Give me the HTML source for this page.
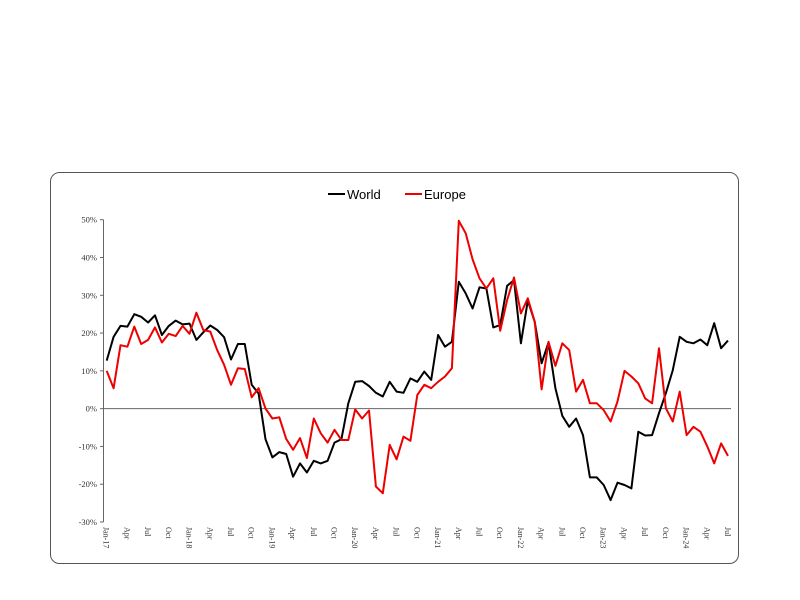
<!DOCTYPE html>
<html><head><meta charset="utf-8"><style>
body{margin:0;background:#fff;width:800px;height:600px;overflow:hidden}
svg{display:block}
</style></head><body>
<svg id="chart" width="800" height="600">
<rect x="50.5" y="172.5" width="688" height="391" rx="9" fill="#fff" stroke="#555" stroke-width="1"/>
<g id="legend">
<line x1="328" y1="194" x2="345" y2="194" stroke="#000" stroke-width="2"/>
<text x="347" y="199" font-family="Liberation Sans, sans-serif" font-size="13" fill="#000">World</text>
<line x1="405" y1="194" x2="422" y2="194" stroke="#e00" stroke-width="2"/>
<text x="424" y="199" font-family="Liberation Sans, sans-serif" font-size="13" fill="#000">Europe</text>
</g>
<g id="axes"></g>
<g id="series"></g>
</svg>
<script>
const yTicks=[50,40,30,20,10,0,-10,-20,-30];
const xTickLabels=["Jan-17","Apr","Jul","Oct","Jan-18","Apr","Jul","Oct","Jan-19","Apr","Jul","Oct","Jan-20","Apr","Jul","Oct","Jan-21","Apr","Jul","Oct","Jan-22","Apr","Jul","Oct","Jan-23","Apr","Jul","Oct","Jan-24","Apr","Jul"];
const world=[12.7,19,21.9,21.7,25,24.3,22.8,24.7,19.5,21.9,23.3,22.3,22.5,18.2,20.2,22,20.8,18.9,13,17.1,17.1,6.3,4,-8.1,-12.9,-11.5,-12,-18,-14.5,-16.9,-13.8,-14.5,-13.8,-9,-8.1,1.4,7.1,7.3,6,4.2,3.2,7.1,4.5,4.2,8,7.1,9.8,7.6,19.5,16.4,17.7,33.6,30.5,26.5,32.1,31.8,21.5,22.1,32.5,34,17.3,28.6,23,12,17.5,5.4,-1.9,-4.8,-2.6,-7,-18.2,-18.2,-20.2,-24.2,-19.6,-20.2,-21.1,-6.1,-7.1,-7,-1.2,4.1,10.2,19,17.7,17.3,18.3,16.8,22.6,16,18];
const europe=[10,5.4,16.8,16.4,21.7,17.1,18.2,21.5,17.5,19.8,19.2,21.9,19.8,25.4,20.8,20.4,15.5,11.6,6.3,10.7,10.5,3,5.4,0,-2.6,-2.3,-8,-10.9,-7.8,-13.1,-2.6,-6.5,-9,-5.6,-8.3,-8.3,-0.2,-2.6,-0.5,-20.6,-22.4,-9.6,-13.4,-7.4,-8.5,3.6,6.3,5.4,7.1,8.5,10.7,49.7,46.4,39.5,34.5,31.8,34.5,20.6,28.7,34.7,25.2,29.2,23,5.1,17.7,11.3,17.3,15.5,4.5,7.6,1.4,1.4,-0.4,-3.4,1.9,10,8.5,6.7,2.7,1.4,16,0.1,-3.4,4.5,-7,-4.8,-6.1,-10,-14.5,-9.2,-12.5];
const NS='http://www.w3.org/2000/svg';
const x0=106.7,x1=728,yTop=219.7,yBot=522,vMax=50,vMin=-30;
const N=world.length;
function xs(i){return x0+(x1-x0)*i/(N-1);}
function ys(v){return yTop+(vMax-v)*(yBot-yTop)/(vMax-vMin);}
function mk(t,a,p){const e=document.createElementNS(NS,t);for(const k in a)e.setAttribute(k,a[k]);p.appendChild(e);return e;}
const axes=document.getElementById('axes');
const yAxis=mk('line',{x1:103.5,y1:yTop,x2:103.5,y2:yBot,stroke:'#666','stroke-width':1},axes);


const zero=mk('line',{x1:103.5,y1:ys(0),x2:731,y2:ys(0),stroke:'#666','stroke-width':1},axes);


yTicks.forEach(v=>{
  const tk=mk('line',{x1:100,y1:ys(v),x2:103.5,y2:ys(v),stroke:'#666'},axes);
  
  
  const t=mk('text',{x:97,y:ys(v)+3,'text-anchor':'end','font-family':'Liberation Serif, serif','font-size':8.5,fill:'#333'},axes);
  t.textContent=v+'%';
  
  
});
xTickLabels.forEach((l,k)=>{
  const x=xs(k*3);
  const t=mk('text',{x:0,y:0,transform:`translate(${x-3},527) rotate(90)`,'font-family':'Liberation Serif, serif','font-size':8,fill:'#333'},axes);
  t.textContent=l;
  
  
});
const series=document.getElementById('series');
function line(d,c,name){
  const p=mk('polyline',{points:d.map((v,i)=>xs(i).toFixed(1)+','+ys(v).toFixed(1)).join(' '),fill:'none',stroke:c,'stroke-width':2,'stroke-linejoin':'round'},series);
  
  
}
line(world,'#000','world-line');
line(europe,'#e00','europe-line');
</script>
</body></html>
